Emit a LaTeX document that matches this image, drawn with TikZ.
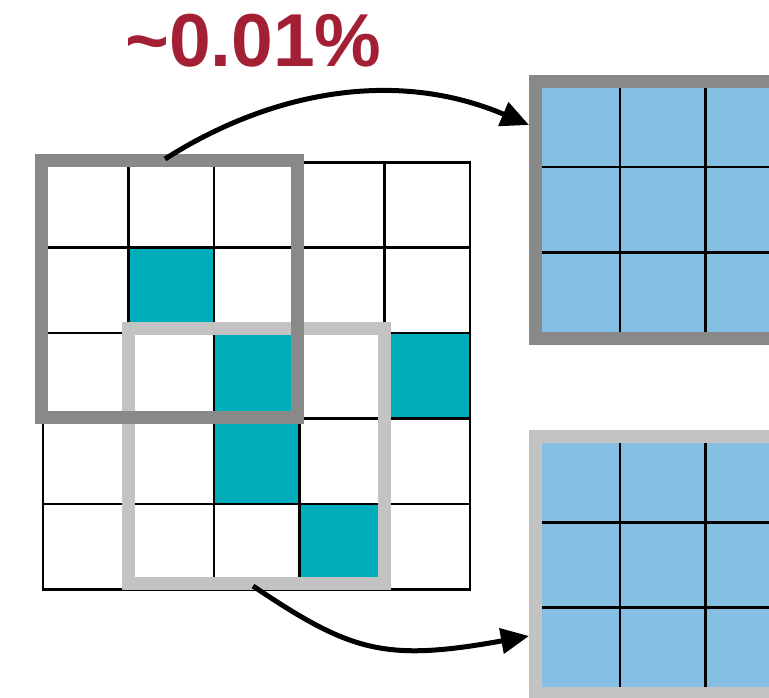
\documentclass[tikz,border=0pt]{standalone}
\usepackage{fontspec}
\setmainfont{Liberation Sans}
\usetikzlibrary{arrows.meta,calc}
\definecolor{winDark}{HTML}{898989}
\definecolor{winLight}{HTML}{C3C3C3}
\definecolor{hit}{HTML}{00ADBB}
\definecolor{cellBlue}{HTML}{85BFE3}
\definecolor{pctRed}{HTML}{A31F34}
\begin{document}
\begin{tikzpicture}[x=1pt,y=-1pt,
  gridline/.style={line width=2.6pt, black},
  window/.style={draw, line width=13pt, inner sep=0pt,
    minimum width=256pt, minimum height=256pt},
  outbox/.style={window, fill=cellBlue, minimum width=256.5pt, minimum height=256.5pt},
  flow/.style={line width=5pt, black, -{Triangle[length=28pt,width=25pt]}}]
\useasboundingbox (0,0) rectangle (769,698);
\clip (0,0) rectangle (769,698);

% input map: 5x5 cells, a few of them active
\def\cs{85.4}
\foreach \c/\r in {1/1,2/2,4/2,2/3,3/4}
  \fill[hit] (43+\c*\cs,162.3+\r*\cs) rectangle ++(\cs,\cs);
\foreach \i in {1,...,4} {
  \draw[gridline] (43+\i*\cs,162.3) -- (43+\i*\cs,589.3);
  \draw[gridline] (43,162.3+\i*\cs) -- (470,162.3+\i*\cs);
}
\draw[gridline] (43,162.3) rectangle (470,589.3);

% sliding windows
\node[window, draw=winLight, minimum height=255.7pt] (win2) at (256.25,455.85) {};
\node[window, draw=winDark] (win1) at (169,289) {};

% output patches
\node[outbox, draw=winDark] (out1) at (663.75,209.95) {};
\node[outbox, draw=winLight] (out2) at (663.75,564.95) {};
\foreach \x in {620,705.5} {
  \draw[gridline] (\x,88.2) -- (\x,331.7);
  \draw[gridline] (\x,443.2) -- (\x,686.7);
}
\foreach \y in {167.2,252.7,522.2,607.7}
  \draw[gridline] (542,\y) -- (785,\y);

% label
\node[anchor=base west, inner sep=0pt, text=pctRed,
  font=\fontsize{75}{80}\selectfont\bfseries] (pct) at (125,67) {\textasciitilde 0.01\%};

% connectors
\coordinate (a1s) at (165,159);
\coordinate (t1) at (0,125);
\coordinate (a2s) at (253,586);
\coordinate (t2) at (0,636);
\draw[flow] (a1s) .. controls (270,92) and (395,68) .. (out1.west |- t1);
\draw[flow] (a2s) .. controls (351,652) and (385,662) .. (out2.west |- t2);
\end{tikzpicture}
\end{document}
